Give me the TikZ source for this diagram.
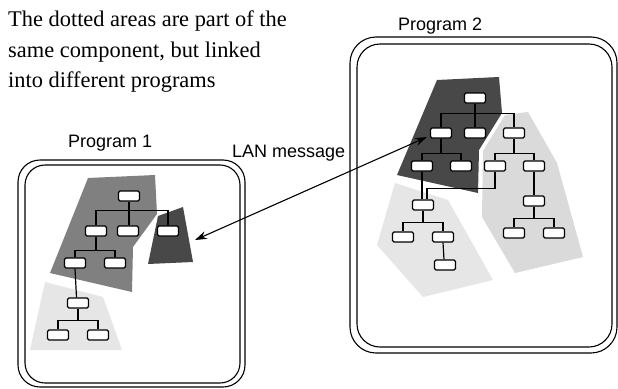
\documentclass[tikz,border=0pt]{standalone}
\usepackage{fontspec}
\setmainfont{Liberation Serif}
\setsansfont{Liberation Sans}
\usetikzlibrary{arrows.meta}
\definecolor{midgray}{HTML}{808080}
\definecolor{darkgray}{HTML}{484848}
\definecolor{lightA}{HTML}{E6E6E6}
\definecolor{lightB}{HTML}{DADADA}
\tikzset{
  bx/.style={draw, fill=white, rounded corners=1.5pt, minimum width=21pt, minimum height=10pt, inner sep=0pt, line width=1.3pt},
  ln/.style={line width=1.2pt},
  frame/.style={line width=1.1pt, rounded corners=#1},
  lbl/.style={anchor=base west, inner sep=0pt, font=\sffamily\fontsize{18}{20}\selectfont},
  note/.style={anchor=base west, inner sep=0pt, font=\rmfamily\fontsize{22.4}{30}\selectfont},
}
\begin{document}
\begin{tikzpicture}[x=1pt,y=-1pt]
\useasboundingbox (0,0) rectangle (618,388);
\fill[white] (0,0) rectangle (618,388);

% text
\node[note] (t1) at (8,27) {The dotted areas are part of the};
\node[note] (t2) at (8,57) {same component, but linked};
\node[note] (t3) at (8,87) {into different programs};

% frames
\draw[frame=22pt] (18,160) rectangle (245,387);
\draw[frame=20pt] (25,165) rectangle (240,383);
\draw[frame=26pt] (350,37) rectangle (617,353);
\draw[frame=23pt] (357,44) rectangle (612,347);

\node[lbl] (p1) at (68,147) {Program 1};
\node[lbl] (p2) at (398,30) {Program 2};
\node[lbl] (lan) at (232,157) {LAN message};

% Program 1 areas
\fill[midgray] (88,178) -- (155,175) -- (157,214) -- (133,247) -- (132,292) -- (50,273) -- cycle;
\fill[darkgray] (158,216) -- (183,207) -- (193,262) -- (148,264) -- cycle;
\fill[lightA] (45,282) -- (103,297) -- (122,350) -- (30,350) -- cycle;

% Program 2 areas
\fill[lightA] (395,183) -- (448,200) -- (493,280) -- (423,297) -- (377,245) -- cycle;
\fill[lightB] (505,115) -- (528,112) -- (557,163) -- (583,257) -- (515,273) -- (482,217) -- (483,151) -- cycle;
\fill[darkgray] (437,80) -- (499,77) -- (502,113) -- (479,150) -- (478,193) -- (397,175) -- cycle;

% Program 1 tree
\node[bx] (r1) at (129,196) {};
\node[bx] (a21) at (96,231) {};
\node[bx] (a22) at (128,231) {};
\node[bx] (a23) at (168,231) {};
\node[bx] (a31) at (75,263) {};
\node[bx] (a32) at (115,263) {};
\node[bx] (a41) at (78,303) {};
\node[bx] (a51) at (58,335) {};
\node[bx] (a52) at (98,335) {};

\draw[ln] (r1.south) -- ++(0,9) -| (a21.north);
\draw[ln] (r1.south) -- ++(0,9) -| (a23.north);
\draw[ln] (r1.south) -- (r1.south |- a22.north);
\draw[ln] (a21.south) -- ++(0,14) -| (a31.north);
\draw[ln] (a21.south) -- ++(0,14) -| (a32.north);
\draw[ln] (a31.south) -- ([xshift=-1.5pt]a41.north);
\draw[ln] (a41.south) -- ++(0,12) -| (a51.north);
\draw[ln] (a41.south) -- ++(0,12) -| (a52.north);

% Program 2 tree
\node[bx] (r2) at (475,98) {};
\node[bx] (b21) at (441,133) {};
\node[bx] (b22) at (475,133) {};
\node[bx] (b23) at (514,133) {};
\node[bx] (b31) at (422,166) {};
\node[bx] (b32) at (461,166) {};
\node[bx] (b33) at (495,166) {};
\node[bx] (b34) at (534,166) {};
\node[bx] (b41) at (423,205) {};
\node[bx] (b42) at (534,201) {};
\node[bx] (b51) at (403,237) {};
\node[bx] (b52) at (443,237) {};
\node[bx] (b53) at (514,233) {};
\node[bx] (b54) at (554,233) {};
\node[bx] (b61) at (445,265) {};

\draw[ln] (r2.south) -- ++(0,10) -| (b21.north);
\draw[ln] (r2.south) -- ++(0,10) -| (b23.north);
\draw[ln] (r2.south) -- (b22.north);
\draw[ln] (b21.south) -- ++(0,15) -| (b31.north);
\draw[ln] (b21.south) -- ++(0,15) -| (b32.north);
\draw[ln] (b23.south) -- ++(0,15) -| (b33.north);
\draw[ln] (b23.south) -- ++(0,15) -| (b34.north);
\draw[ln] (b31.south) -- (b31.south |- b41.north);
\draw[ln] (b33.south) -- ++(0,17) -| ([xshift=4pt]b41.north);
\draw[ln] (b34.south) -- (b42.north);
\draw[ln] (b41.south) -- ++(0,12) -| (b51.north);
\draw[ln] (b41.south) -- ++(0,12) -| (b52.north);
\draw[ln] (b52.south) -- ([xshift=1pt]b52.south |- b61.north);
\draw[ln] (b42.south) -- ++(0,12) -| (b53.north);
\draw[ln] (b42.south) -- ++(0,12) -| (b54.north);

% LAN arrow
\coordinate (e1) at (195,240);
\coordinate (e2) at (427,137);
\draw[line width=1.1pt, {Stealth[length=12pt,width=8pt,inset=4pt]}-{Stealth[length=12pt,width=8pt,inset=4pt]}] (e1) -- (e2);
\end{tikzpicture}
\end{document}
